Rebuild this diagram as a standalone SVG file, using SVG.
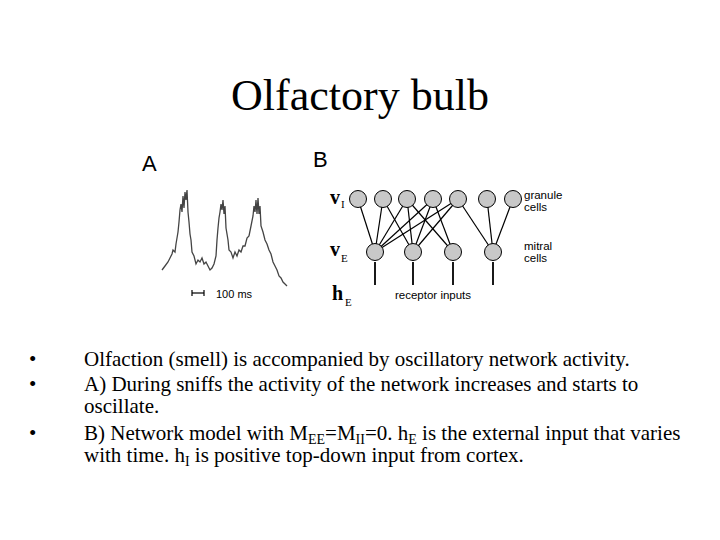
<svg xmlns="http://www.w3.org/2000/svg" width="720" height="540" viewBox="0 0 720 540">
<style>
.t{font-family:"Liberation Serif",serif;fill:#000}
.s{font-family:"Liberation Sans",sans-serif;fill:#000}
.c{fill:#c8c8c8;stroke:#000;stroke-width:1}
.l{stroke:#000;stroke-width:1.2;fill:none}
</style>
<rect width="720" height="540" fill="#fff"/>
<text class="t" x="360" y="110" font-size="44" text-anchor="middle">Olfactory bulb</text>
<g id="panelA">
<text class="s" x="142" y="171" font-size="22">A</text>
<polyline fill="none" stroke="#444" stroke-width="1.3" points="162,270 165,266 168,262 170,258 172,254 173,250 175,252 176,244 178,232 179,222 180,210 181,204 182,212 183,196 184,208 185,192 186,200 187,190 188,212 189,222 190,234 191,240 192,252 194,256 196,264 198,260 200,262 202,258 204,264 206,262 208,266 210,270 212,268 214,264 216,256 217,240 218,228 219,218 220,212 221,204 222,210 223,200 224,214 225,206 226,228 228,240 229,250 231,252 233,258 235,252 237,256 239,250 241,252 243,246 245,246 247,238 249,236 251,226 253,216 254,206 255,212 256,200 257,214 258,198 259,214 260,206 261,226 263,232 265,240 267,244 269,250 271,254 273,262 275,266 277,270 279,276 281,278 283,282 285,284 287,286"/>
<line class="l" x1="192" y1="293" x2="204" y2="293"/>
<line class="l" x1="192" y1="290" x2="192" y2="296"/>
<line class="l" x1="204" y1="290" x2="204" y2="296"/>
<text class="s" x="216" y="298" font-size="11">100 ms</text>
</g>
<g id="connectors">
<g class="l">
<line x1="375" y1="252" x2="358" y2="199"/><line x1="375" y1="252" x2="383" y2="199"/><line x1="375" y1="252" x2="407" y2="199"/><line x1="375" y1="252" x2="433" y2="199"/><line x1="375" y1="252" x2="458" y2="199"/>
<line x1="413" y1="252" x2="383" y2="199"/><line x1="413" y1="252" x2="407" y2="199"/><line x1="413" y1="252" x2="433" y2="199"/><line x1="413" y1="252" x2="458" y2="199"/>
<line x1="453" y1="252" x2="407" y2="199"/><line x1="453" y1="252" x2="433" y2="199"/>
<line x1="493" y1="252" x2="458" y2="199"/><line x1="493" y1="252" x2="487" y2="199"/><line x1="493" y1="252" x2="513" y2="199"/>
</g>
<g stroke="#000" stroke-width="1.8">
<line x1="375" y1="262" x2="375" y2="285"/><line x1="413" y1="262" x2="413" y2="285"/><line x1="453" y1="262" x2="453" y2="285"/><line x1="493" y1="262" x2="493" y2="285"/>
</g>
</g>
<g id="granule">
<circle class="c" cx="358" cy="199" r="8.5"/><circle class="c" cx="383" cy="199" r="8.5"/><circle class="c" cx="407" cy="199" r="8.5"/><circle class="c" cx="433" cy="199" r="8.5"/><circle class="c" cx="458" cy="199" r="8.5"/><circle class="c" cx="487" cy="199" r="8.5"/><circle class="c" cx="513" cy="199" r="8.5"/>
</g>
<g id="mitral">
<circle class="c" cx="375" cy="252" r="8.5"/><circle class="c" cx="413" cy="252" r="8.5"/><circle class="c" cx="453" cy="252" r="8.5"/><circle class="c" cx="493" cy="252" r="8.5"/>
</g>
<g id="labelsB">
<text class="s" x="313" y="167" font-size="22">B</text>
<text class="t" x="330" y="204" font-size="20" font-weight="bold">v</text><text class="t" x="341" y="208" font-size="11">I</text>
<text class="t" x="330" y="256" font-size="20" font-weight="bold">v</text><text class="t" x="341" y="262" font-size="11">E</text>
<text class="t" x="332" y="300" font-size="20" font-weight="bold">h</text><text class="t" x="345" y="306" font-size="11">E</text>
<text class="s" x="524" y="199" font-size="11.5">granule</text><text class="s" x="524" y="211" font-size="11.5">cells</text>
<text class="s" x="524" y="250" font-size="11.5">mitral</text><text class="s" x="524" y="262" font-size="11.5">cells</text>
<text class="s" x="395" y="299" font-size="11.5">receptor inputs</text>
</g>
<g id="bullets" class="t" font-size="21">
<text x="29" y="366">•</text><text x="84" y="366">Olfaction (smell) is accompanied by oscillatory network activity.</text>
<text x="29" y="391">•</text><text x="84" y="391">A) During sniffs the activity of the network increases and starts to</text>
<text x="84" y="413">oscillate.</text>
<text x="29" y="440">•</text><text x="84" y="440">B) Network model with M<tspan font-size="14" dy="4">EE</tspan><tspan dy="-4">=M</tspan><tspan font-size="14" dy="4">II</tspan><tspan dy="-4">=0. h</tspan><tspan font-size="14" dy="4">E</tspan><tspan dy="-4"> is the external input that varies</tspan></text>
<text x="84" y="462">with time. h<tspan font-size="14" dy="4">I</tspan><tspan dy="-4"> is positive top-down input from cortex.</tspan></text>
</g>
</svg>
